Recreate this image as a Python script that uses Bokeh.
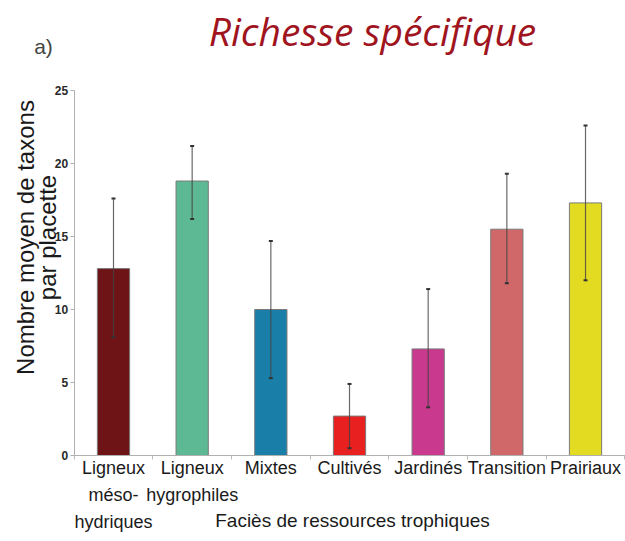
from math import pi
from bokeh.plotting import figure
from bokeh.models import (ColumnDataSource, Whisker, TeeHead, Label, FixedTicker,
                          Range1d, LinearAxis)
from bokeh.embed import file_html
from bokeh.resources import INLINE

# ---- data ----
categories = ["Ligneux\nméso-\nhydriques", "Ligneux\nhygrophiles", "Mixtes",
              "Cultivés", "Jardinés", "Transition", "Prairiaux"]
means = [12.8, 18.8, 10.0, 2.7, 7.3, 15.5, 17.3]
err_upper = [17.6, 21.2, 14.7, 4.9, 11.4, 19.3, 22.6]
err_lower = [8.1, 16.2, 5.3, 0.5, 3.3, 11.8, 12.0]
colors = ["#6E1416", "#5DB993", "#1A7FA8", "#E8201F", "#C93A8E", "#D0686A", "#E3DA22"]
y_ticks = [0, 5, 10, 15, 20, 25]

title_text = "Richesse spécifique"
panel_text = "a)"
y_title = ["Nombre moyen de taxons", "par placette"]
x_title = "Faciès de ressources trophiques"

# ---- layout (pixels of the figure) ----
W, H = 625, 541
cat0_px, cat_step = 113, 78.67         # centre of first category, spacing
y0_px, y25_px = 455, 90                # pixel rows of 0 and 25 (from top)
px_per_unit = (y0_px - y25_px) / 25.0
x_start = -cat0_px / cat_step
x_end = (W - cat0_px) / cat_step
y_start = -(H - y0_px) / px_per_unit
y_end = 25 + y25_px / px_per_unit

idx = list(range(len(categories)))
src = ColumnDataSource(dict(x=idx, top=means, up=err_upper, lo=err_lower, color=colors))

p = figure(width=W, height=H, output_backend="svg", toolbar_location=None,
           x_range=Range1d(x_start, x_end), y_range=Range1d(y_start, y_end),
           x_axis_location=None, y_axis_location=None,
           min_border=0)
p.outline_line_color = None
p.xgrid.grid_line_color = None
p.ygrid.grid_line_color = None
p.background_fill_color = "white"
p.border_fill_color = "white"

p.vbar(x="x", top="top", width=0.41, bottom=0, source=src, fill_color="color",
       line_color="#7a7a7a", line_width=1)

w = Whisker(base="x", upper="up", lower="lo", source=src, level="overlay",
            line_color="#444444", line_width=1.2, line_alpha=0.8,
            upper_head=TeeHead(size=4, line_color="#333333", line_width=2),
            lower_head=TeeHead(size=4, line_color="#333333", line_width=2))
p.add_layout(w)

# y axis
yax = LinearAxis(fixed_location=-0.5, bounds=(0, 25))
yax.ticker = FixedTicker(ticks=y_ticks)
yax.axis_line_color = "#b0b0b0"
yax.major_tick_line_color = "#b0b0b0"
yax.major_tick_out = 4
yax.major_tick_in = 0
yax.minor_tick_line_color = None
yax.major_label_text_font = "Liberation Sans"
yax.major_label_text_font_size = "12px"
yax.major_label_text_font_style = "bold"
yax.major_label_text_color = "#2a2a2a"
yax.major_label_standoff = 2
p.add_layout(yax, "left")

# x axis
xax = LinearAxis(fixed_location=0, bounds=(-0.5, x_end))
xax.ticker = FixedTicker(ticks=idx, minor_ticks=[i + 0.5 for i in range(-1, 7)])
xax.major_label_overrides = {i: c for i, c in zip(idx, categories)}
xax.axis_line_color = "#b0b0b0"
xax.major_tick_line_color = None
xax.major_tick_out = 0
xax.major_tick_in = 0
xax.minor_tick_line_color = "#bbbbbb"
xax.minor_tick_out = 4
xax.minor_tick_in = 0
xax.major_label_text_font = "Liberation Sans"
xax.major_label_text_font_size = "18px"
xax.major_label_text_color = "#1a1a1a"
xax.major_label_text_line_height = 1.36
xax.major_label_standoff = -2
p.add_layout(xax, "below")

# title and texts (screen units: from the figure's left and bottom)
p.add_layout(Label(x=372, y=H - 30, x_units="screen", y_units="screen", text=title_text,
                   text_font="Open Sans", text_font_style="italic",
                   text_font_size="39px", text_color="#A0141E",
                   text_align="center", text_baseline="middle"))
p.add_layout(Label(x=43, y=H - 46, x_units="screen", y_units="screen", text=panel_text,
                   text_font="Liberation Sans", text_font_size="21px",
                   text_color="#444444", text_align="center", text_baseline="middle"))
p.add_layout(Label(x=25, y=H - 237, x_units="screen", y_units="screen", text=y_title[0],
                   text_font="Liberation Sans", text_font_size="24px",
                   text_color="#1a1a1a", angle=pi / 2,
                   text_align="center", text_baseline="middle"))
p.add_layout(Label(x=47, y=H - 237, x_units="screen", y_units="screen", text=y_title[1],
                   text_font="Liberation Sans", text_font_size="24px",
                   text_color="#1a1a1a", angle=pi / 2,
                   text_align="center", text_baseline="middle"))
p.add_layout(Label(x=352, y=H - 520, x_units="screen", y_units="screen", text=x_title,
                   text_font="Liberation Sans", text_font_size="19px",
                   text_color="#1a1a1a", text_align="center", text_baseline="middle"))

open("out.html", "w").write(file_html(p, INLINE))
